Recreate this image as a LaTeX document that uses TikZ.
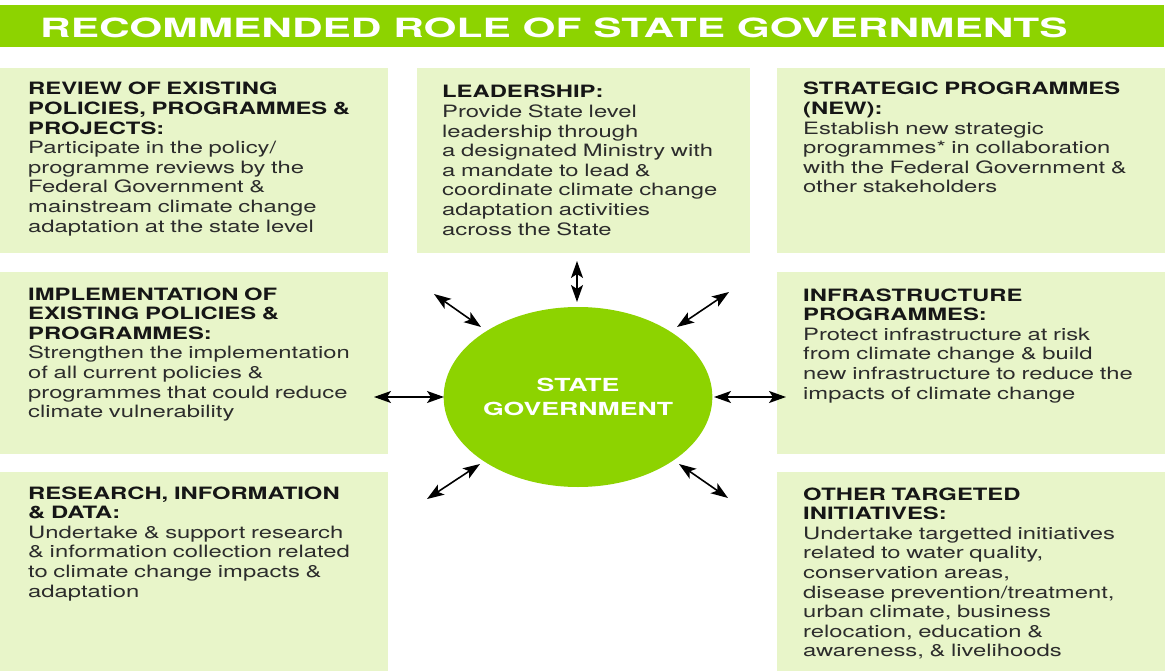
\documentclass[tikz,border=0pt]{standalone}
\usepackage{fontspec}
\usetikzlibrary{shapes.geometric,arrows.meta}
\newfontfamily\bodyfont{TeX Gyre Heros}[FakeStretch=1.40]
\newfontfamily\hubfont{TeX Gyre Heros}[FakeStretch=1.48]
\newfontfamily\titlefont{TeX Gyre Heros}[FakeStretch=1.60]
\definecolor{leaf}{HTML}{8DD300}
\definecolor{pale}{HTML}{E8F5C9}
\definecolor{ink}{HTML}{161616}
\definecolor{bodyink}{HTML}{2C2C2C}
\newcommand\headline[1]{\textcolor{ink}{\bfseries #1}}

\begin{document}
\begin{tikzpicture}[x=1pt,y=-1pt,
  panel/.style={fill=pale, draw=none, anchor=north west, inner sep=0pt},
  blurb/.style={anchor=base west, inner sep=0pt, text width=375pt, align=left,
    text=bodyink, font=\bodyfont\fontsize{17}{19.6}\selectfont},
  tip/.style={Stealth[length=17pt,width=12pt,inset=4pt]},
  biarrow/.style={{Stealth[length=17pt,width=12pt,inset=4pt]}-{Stealth[length=17pt,width=12pt,inset=4pt]},
    line width=1.6pt, black}]

% canvas
\fill[white] (0,0) rectangle (1167,671);
\useasboundingbox (0,0) rectangle (1167,671);

% title bar
\node[fill=leaf, anchor=north west, inner sep=0pt, minimum width=1164pt, minimum height=42pt] (bar) at (0,5) {};
\node[anchor=base west, inner sep=0pt, text=white,
      font=\titlefont\bfseries\fontsize{26.5}{30}\selectfont] (title) at (40,37.5)
      {RECOMMENDED ROLE OF STATE GOVERNMENTS};

% panels
\node[panel, minimum width=388pt, minimum height=185pt] (p1) at (0,68) {};
\node[panel, minimum width=333pt, minimum height=185pt] (p2) at (417,68) {};
\node[panel, minimum width=388pt, minimum height=185pt] (p3) at (777,68) {};
\node[panel, minimum width=388pt, minimum height=182pt] (p4) at (0,272) {};
\node[panel, minimum width=388pt, minimum height=182pt] (p5) at (777,272) {};
\node[panel, minimum width=388pt, minimum height=199pt] (p6) at (0,472) {};
\node[panel, minimum width=388pt, minimum height=199pt] (p7) at (777,472) {};

% panel texts
\node[blurb] (t1) at (28,95) {\headline{REVIEW OF EXISTING}\\\headline{POLICIES, PROGRAMMES \&}\\\headline{PROJECTS:}\\
Participate in the policy/\\programme reviews by the\\Federal Government \&\\mainstream climate change\\adaptation at the state level};
\node[blurb] (t2) at (442,98) {\headline{LEADERSHIP:}\\
Provide State level\\leadership through\\a designated Ministry with\\a mandate to lead \&\\coordinate climate change\\adaptation activities\\across the State};
\node[blurb] (t3) at (803,95) {\headline{STRATEGIC PROGRAMMES}\\\headline{(NEW):}\\
Establish new strategic\\programmes* in collaboration\\with the Federal Government \&\\other stakeholders};
\node[blurb] (t4) at (28,300) {\headline{IMPLEMENTATION OF}\\\headline{EXISTING POLICIES \&}\\\headline{PROGRAMMES:}\\
Strengthen the implementation\\of all current policies \&\\programmes that could reduce\\climate vulnerability};
\node[blurb] (t5) at (803,301) {\headline{INFRASTRUCTURE}\\\headline{PROGRAMMES:}\\
Protect infrastructure at risk\\from climate change \& build\\new infrastructure to reduce the\\impacts of climate change};
\node[blurb] (t6) at (28,499) {\headline{RESEARCH, INFORMATION}\\\headline{\& DATA:}\\
Undertake \& support research\\\& information collection related\\to climate change impacts \&\\adaptation};
\node[blurb] (t7) at (803,500) {\headline{OTHER TARGETED}\\\headline{INITIATIVES:}\\
Undertake targetted initiatives\\related to water quality,\\conservation areas,\\disease prevention/treatment,\\urban climate, business\\relocation, education \&\\awareness, \& livelihoods};

% hub
\node[ellipse, fill=leaf, minimum width=252pt, minimum height=180pt, inner sep=0pt,
      align=center, text=white, font=\hubfont\bfseries\fontsize{18}{24}\selectfont]
      (gov) at (578,397) {STATE\\GOVERNMENT};

% arrow ends
\coordinate (nA) at (577,261);  \coordinate (nB) at (577,302);
\coordinate (nwA) at (434,294); \coordinate (nwB) at (481,327);
\coordinate (neA) at (729,292); \coordinate (neB) at (677,327);
\coordinate (wA) at (374,397);  \coordinate (wB) at (444,397);
\coordinate (eA) at (786,397);  \coordinate (eB) at (714,397);
\coordinate (swA) at (427,499); \coordinate (swB) at (480,464);
\coordinate (seA) at (728,498); \coordinate (seB) at (679,464);

\draw[biarrow] (nA) -- (nB);
\draw[biarrow] (nwA) -- (nwB);
\draw[biarrow] (neA) -- (neB);
\draw[biarrow] (wA) -- (wB);
\draw[biarrow] (eA) -- (eB);
\draw[biarrow] (swA) -- (swB);
\draw[biarrow] (seA) -- (seB);
\end{tikzpicture}
\end{document}
